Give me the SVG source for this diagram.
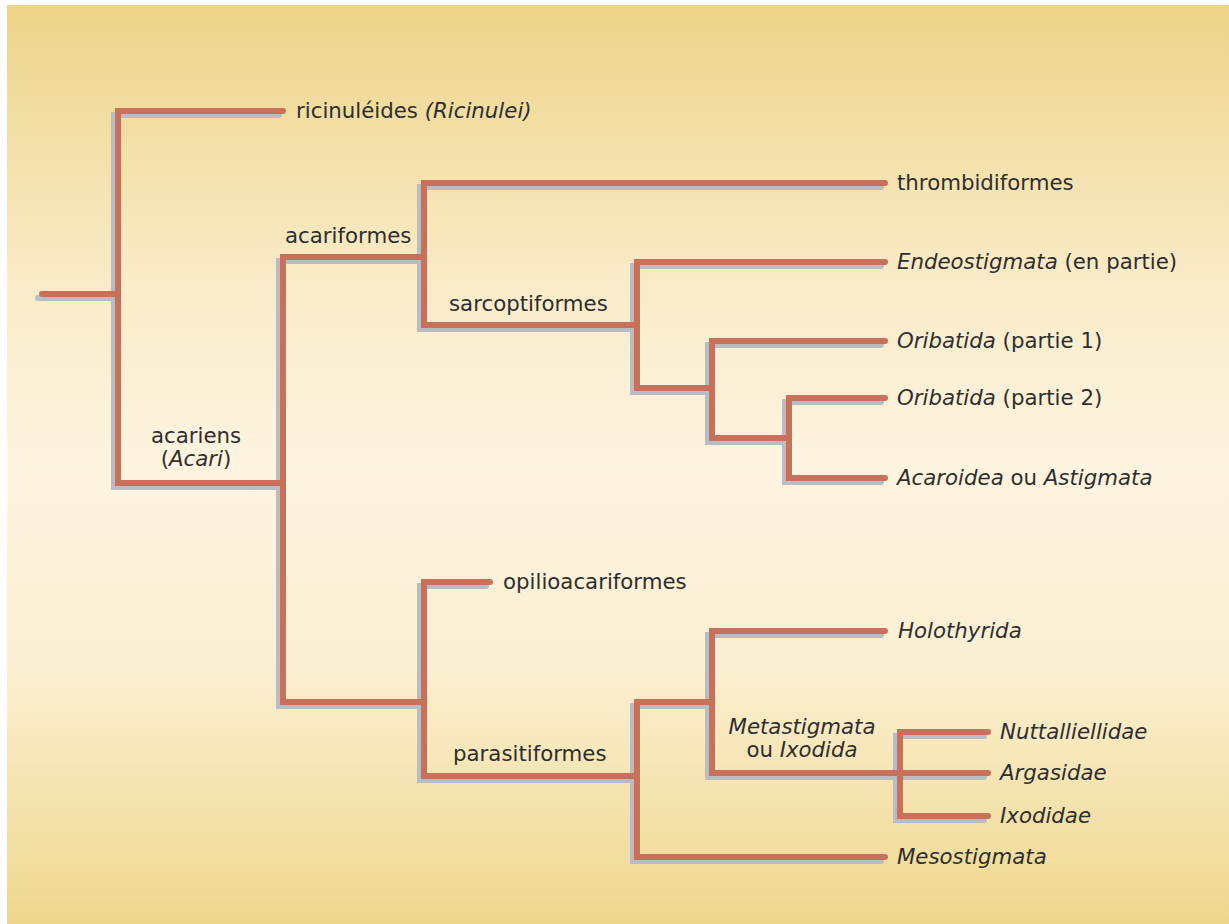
<svg xmlns="http://www.w3.org/2000/svg" width="1229" height="924" viewBox="0 0 1229 924">
<defs>
<linearGradient id="bg" x1="0" y1="0" x2="0" y2="1">
<stop offset="0" stop-color="#edd488"/>
<stop offset="0.3" stop-color="#f9ebc8"/>
<stop offset="0.5" stop-color="#fdf4e0"/>
<stop offset="0.72" stop-color="#fbefd2"/>
<stop offset="1" stop-color="#eed78c"/>
</linearGradient>
<style>
.br{fill:none;stroke:#c9705a;stroke-width:6;stroke-linecap:round;stroke-linejoin:miter}
.sh{fill:none;stroke:#b9bcc2;stroke-width:6;stroke-linecap:round;stroke-linejoin:miter}
text{font-family:"DejaVu Sans","Liberation Sans",sans-serif;font-size:21.3px;fill:#2e2e2e}
.i{font-style:italic}
.m{text-anchor:middle}
</style>
<g id="branches">
<path d="M42 294H118"/>
<path d="M283 111H118V483H283"/>
<path d="M424 257H283V702H424"/>
<path d="M885 183H424V325H637"/>
<path d="M885 262H637V388H712"/>
<path d="M885 341H712V438H789"/>
<path d="M885 398H789V478H885"/>
<path d="M490 582H424V776H637"/>
<path d="M712 702H637V857H885"/>
<path d="M885 631H712V773H988"/>
<path d="M988 732H900V816H988"/>
</g>
</defs>
<rect x="0" y="0" width="1229" height="924" fill="#ffffff"/>
<rect x="7" y="5" width="1222" height="919" fill="url(#bg)"/>
<g id="connectors">
<use href="#branches" class="sh" transform="translate(-4,4)"/>
<use href="#branches" class="br"/>
</g>
<g id="n-ricinulei"><text x="296" y="118">ricinuléides <tspan class="i">(Ricinulei)</tspan></text></g>
<g id="n-acari"><text class="m" x="196" y="443">acariens</text><text class="m" x="196" y="466">(<tspan class="i">Acari</tspan>)</text></g>
<g id="n-acariformes"><text x="285" y="243">acariformes</text></g>
<g id="n-thrombidiformes"><text x="897" y="190">thrombidiformes</text></g>
<g id="n-sarcoptiformes"><text x="449" y="311">sarcoptiformes</text></g>
<g id="n-endeostigmata"><text x="897" y="269"><tspan class="i">Endeostigmata</tspan> (en partie)</text></g>
<g id="n-oribatida1"><text x="897" y="348"><tspan class="i">Oribatida</tspan> (partie 1)</text></g>
<g id="n-oribatida2"><text x="897" y="405"><tspan class="i">Oribatida</tspan> (partie 2)</text></g>
<g id="n-acaroidea"><text x="897" y="485"><tspan class="i">Acaroidea</tspan> ou <tspan class="i">Astigmata</tspan></text></g>
<g id="n-opilioacariformes"><text x="503" y="589">opilioacariformes</text></g>
<g id="n-parasitiformes"><text x="453" y="761">parasitiformes</text></g>
<g id="n-holothyrida"><text class="i" x="898" y="638">Holothyrida</text></g>
<g id="n-metastigmata"><text class="m i" x="802" y="734">Metastigmata</text><text class="m" x="802" y="757">ou <tspan class="i">Ixodida</tspan></text></g>
<g id="n-nuttalliellidae"><text class="i" x="1000" y="739">Nuttalliellidae</text></g>
<g id="n-argasidae"><text class="i" x="1000" y="780">Argasidae</text></g>
<g id="n-ixodidae"><text class="i" x="1000" y="823">Ixodidae</text></g>
<g id="n-mesostigmata"><text class="i" x="897" y="864">Mesostigmata</text></g>
</svg>
